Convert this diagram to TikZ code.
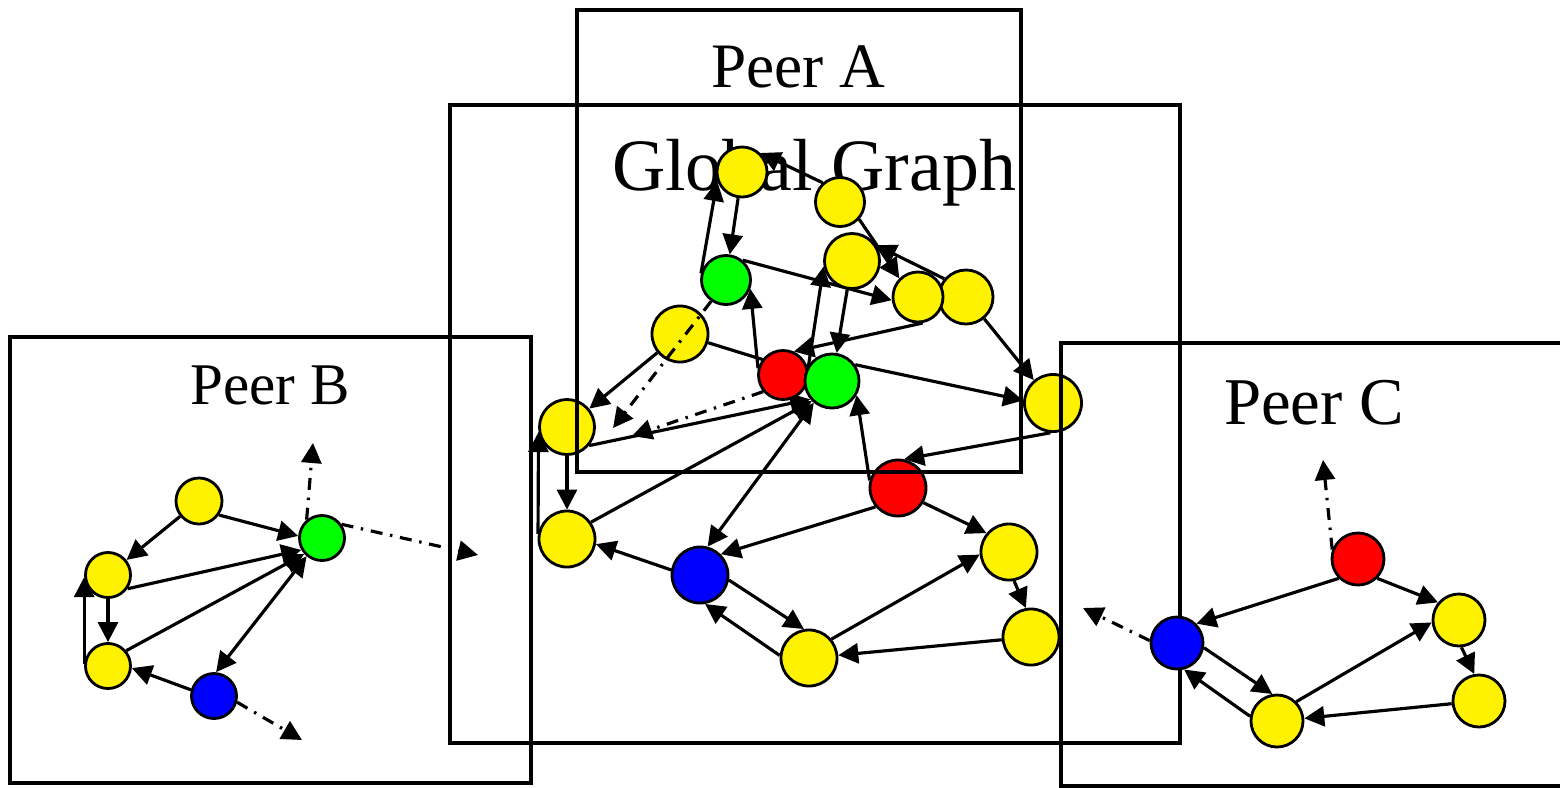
\documentclass[tikz,border=0pt]{standalone}
\usepackage{fontspec}
\setmainfont{Liberation Serif}
\usetikzlibrary{arrows.meta,backgrounds}

\begin{document}
\begin{tikzpicture}[x=0.01cm,y=-0.01cm,
  lbl/.style={anchor=base, inner sep=0pt},
  vtx/.style={circle, draw, line width=0.8pt, inner sep=0pt, minimum size=0.56cm},
  ylw/.style={vtx, fill=yellow},
  grn/.style={vtx, fill=green},
  rd/.style={vtx, fill=red},
  bl/.style={vtx, fill=blue},
  edge/.style={line width=0.9pt, -{Triangle[length=0.2cm,width=0.2cm]}},
  bedge/.style={line width=0.9pt, {Triangle[length=0.2cm,width=0.2cm]}-{Triangle[length=0.2cm,width=0.2cm]}},
  dedge/.style={edge, dash pattern=on 3.4pt off 2.2pt on 0.7pt off 2.2pt},
  frame/.style={line width=1.3pt}]

\clip (0,0) rectangle (1560,787);

% global graph
\node[ylw, minimum size=0.5cm] (a) at (742,172) {};
\node[ylw, minimum size=0.49cm] (b) at (840,202) {};
\node[ylw, minimum size=0.55cm] (c) at (852,261) {};
\node[ylw, minimum size=0.54cm] (e) at (966,297) {};
\node[ylw, minimum size=0.5cm] (d) at (918,297) {};
\node[grn, minimum size=0.49cm] (f) at (726,280) {};
\node[ylw, minimum size=0.56cm] (g) at (680,334) {};
\node[rd, minimum size=0.49cm] (h) at (783,375) {};
\node[grn, minimum size=0.54cm] (i) at (832,381) {};
\node[ylw, minimum size=0.55cm] (j) at (567,427) {};
\node[ylw, minimum size=0.57cm] (k) at (1053,403) {};
\node[rd] (l) at (898,488) {};
\node[ylw] (m) at (567,539) {};
\node[bl] (n) at (700,575) {};
\node[ylw] (o) at (1009,552) {};
\node[ylw] (p) at (1031,637) {};
\node[ylw] (q) at (809,658) {};

% peer B
\node[ylw, minimum size=0.46cm] (b1) at (199,501) {};
\node[grn, minimum size=0.45cm] (b2) at (322,538) {};
\node[ylw, minimum size=0.45cm] (b3) at (108,575) {};
\node[ylw, minimum size=0.45cm] (b4) at (108,666) {};
\node[bl, minimum size=0.45cm] (b5) at (214,696) {};

% peer C
\node[rd, minimum size=0.52cm] (c1) at (1358,559) {};
\node[ylw, minimum size=0.52cm] (c2) at (1459,620) {};
\node[ylw, minimum size=0.52cm] (c3) at (1479,701) {};
\node[ylw, minimum size=0.52cm] (c4) at (1277,721) {};
\node[bl, minimum size=0.52cm] (c5) at (1177,643) {};

\begin{pgfonlayer}{background}
\draw[frame] (450,105) rectangle (1180,743);
\node[lbl, font=\fontsize{21}{24}\selectfont] (gtitle) at (814,190) {Global Graph};

\draw[edge] (a) -- (f);
\draw[edge] (f.165) -- (a.200);
\draw[edge] (b.132) -- (a.46);
\draw[edge] (b.-42) -- (d.135);
\draw[edge] (e.140) -- (c.33);
\draw[edge] (f.50) -- (d.187);
\draw[edge] (d.-80) -- (h.65);
\draw[edge] (c) -- (i);
\draw[edge] (h.-32) -- (c.191);
\draw[edge] (h.165) -- (f.-20);
\draw[edge] (g) -- (i);
\draw[edge] (g) -- (j);
\draw[edge] (j.-40) -- (i.220);
\draw[edge] (m.35) -- (i.225);
\draw[bedge] (n.75) -- (i.230);
\draw[edge] (l.165) -- (i.-30);
\draw[edge] (i.35) -- (k.175);
\draw[edge] (e.-50) -- (k.130);
\draw[edge] (k.-95) -- (l.78);
\draw[edge] (l.220) -- (n.45);
\draw[edge] (l.-30) -- (o.140);
\draw[edge] (o.-80) -- (p.100);
\draw[edge] (p) -- (q);
\draw[edge] (q.40) -- (o.185);
\draw[edge] (n.-10) -- (q.100);
\draw[edge] (q.175) -- (n.-80);
\draw[edge] (n.170) -- (m.-10);
\draw[edge] (j) -- (m);
\draw[edge] (m.170) -- (j.190);

\draw[edge] (b1) -- (b3);
\draw[edge] (b1.-35) -- (b2.175);
\draw[edge] (b3.-35) -- (b2.210);
\draw[edge] (b4.40) -- (b2.222);
\draw[edge] (b3) -- (b4);
\draw[edge] (b4.175) -- (b3.185);
\draw[bedge] (b5.85) -- (b2.230);
\draw[edge] (b5.165) -- (b4.-5);

\draw[edge] (c1.225) -- (c5.45);
\draw[edge] (c1.-45) -- (c2.140);
\draw[edge] (c2.-85) -- (c3.100);
\draw[edge] (c3) -- (c4);
\draw[edge] (c4.45) -- (c2.185);
\draw[edge] (c5.-10) -- (c4.100);
\draw[edge] (c4.170) -- (c5.-75);
\end{pgfonlayer}

% links leaving the peers
\coordinate (fx) at (613,428);
\coordinate (hx) at (632,436);
\coordinate (bx1) at (313,443);
\coordinate (bx2) at (478,555);
\coordinate (bx3) at (302,740);
\coordinate (cx1) at (1323,460);
\coordinate (cx2) at (1083,608);
\draw[dedge] (f.235) -- (fx);
\draw[dedge] (h.220) -- (hx);
\draw[dedge] (b2.130) -- (bx1);
\draw[dedge] (b2.35) -- (bx2);
\draw[dedge] (b5.-15) -- (bx3);
\draw[dedge] (c1.160) -- (cx1);
\draw[dedge] (c5.175) -- (cx2);

% peer frames
\draw[frame] (577,10) rectangle (1021,472);
\draw[frame] (10,337) rectangle (531,783);
\draw[frame] (1061,343) rectangle (1580,786);
\node[lbl, font=\fontsize{18}{20}\selectfont] (peera) at (798,87) {Peer A};
\node[lbl, font=\fontsize{16.8}{19}\selectfont] (peerb) at (270,404) {Peer B};
\node[lbl, font=\fontsize{19}{21}\selectfont] (peerc) at (1314,424) {Peer C};
\end{tikzpicture}
\end{document}
